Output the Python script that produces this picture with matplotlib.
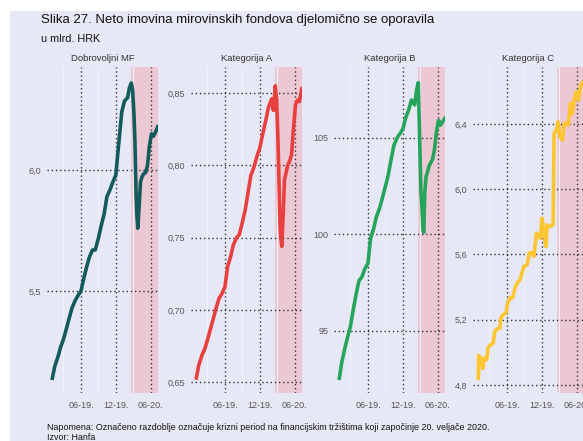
import pandas as pd
import matplotlib.pyplot as plt
from matplotlib.patches import Rectangle

plt.rcParams['font.family'] = ['Liberation Sans', 'DejaVu Sans']

# common dates for the first three panels
dates = pd.to_datetime([
    '2019-01-02', '2019-01-15', '2019-02-01', '2019-02-15', '2019-03-01', '2019-03-15',
    '2019-04-01', '2019-04-15', '2019-05-01', '2019-05-15', '2019-06-01', '2019-06-15',
    '2019-07-01', '2019-07-15', '2019-08-01', '2019-08-15', '2019-09-01', '2019-09-15',
    '2019-10-01', '2019-10-15', '2019-11-01', '2019-11-15', '2019-12-01', '2019-12-15',
    '2020-01-01', '2020-01-15', '2020-02-01', '2020-02-10', '2020-02-20', '2020-02-27',
    '2020-03-05', '2020-03-10', '2020-03-16', '2020-03-20', '2020-03-25', '2020-04-01',
    '2020-04-08', '2020-04-15', '2020-04-25', '2020-05-05', '2020-05-15', '2020-05-25',
    '2020-06-05', '2020-06-15', '2020-06-25', '2020-07-08'])

dobrovoljni = [5.14, 5.19, 5.23, 5.27, 5.30, 5.34, 5.39, 5.43, 5.46, 5.48, 5.50, 5.55,
               5.60, 5.64, 5.67, 5.67, 5.72, 5.77, 5.82, 5.89, 5.92, 5.95, 5.98, 6.10,
               6.24, 6.285, 6.30, 6.34, 6.36, 6.33, 6.23, 6.12, 5.90, 5.82, 5.76, 5.85,
               5.95, 5.97, 5.985, 5.99, 6.02, 6.10, 6.15, 6.14, 6.155, 6.18]

kat_a = [0.653, 0.662, 0.669, 0.673, 0.679, 0.686, 0.694, 0.701, 0.708, 0.711, 0.716, 0.730,
         0.737, 0.745, 0.750, 0.752, 0.761, 0.769, 0.782, 0.793, 0.799, 0.806, 0.812, 0.821,
         0.831, 0.840, 0.846, 0.838, 0.855, 0.845, 0.818, 0.790, 0.758, 0.750, 0.744, 0.765,
         0.790, 0.794, 0.800, 0.803, 0.807, 0.825, 0.842, 0.845, 0.844, 0.853]

kat_b = [92.55, 93.4, 94.15, 94.71, 95.22, 96.05, 96.95, 97.6, 97.81, 98.2, 98.5, 99.8,
         100.3, 100.9, 101.35, 101.85, 102.5, 103.05, 103.9, 104.6, 105.0, 105.2, 105.45, 106.0,
         106.45, 106.95, 106.7, 107.4, 107.85, 105.0, 102.1, 101.4, 100.2, 100.1, 102.2, 103.0,
         103.2, 103.5, 103.7, 103.9, 104.4, 105.3, 105.9, 105.65, 105.8, 106.0]

# kategorija C moves in steps, so it has its own dates
dates_c = pd.to_datetime([
    '2019-01-02', '2019-01-04', '2019-01-14', '2019-01-25', '2019-02-02', '2019-02-15',
    '2019-02-23', '2019-03-08', '2019-03-21', '2019-03-30', '2019-04-11', '2019-04-25',
    '2019-04-30', '2019-05-13', '2019-05-27', '2019-06-04', '2019-06-16', '2019-06-30',
    '2019-07-13', '2019-07-25', '2019-08-08', '2019-08-29', '2019-09-15', '2019-09-26',
    '2019-10-08', '2019-10-20', '2019-11-03', '2019-11-15', '2019-11-24', '2019-12-02',
    '2019-12-11', '2019-12-22', '2019-12-29', '2020-01-12', '2020-01-29', '2020-02-03',
    '2020-02-15', '2020-02-24', '2020-03-04', '2020-03-18', '2020-03-27', '2020-04-08',
    '2020-04-18', '2020-04-29', '2020-05-09', '2020-05-18', '2020-05-30', '2020-06-10',
    '2020-06-17', '2020-06-25', '2020-07-08'])

kat_c = [4.84, 4.98, 4.965, 4.90, 4.965, 4.955, 5.03, 5.047, 5.057, 5.13, 5.143, 5.149,
         5.21, 5.231, 5.241, 5.30, 5.333, 5.333, 5.394, 5.424, 5.445, 5.527, 5.537, 5.608,
         5.612, 5.588, 5.731, 5.71, 5.70, 5.822, 5.751, 5.649, 5.782, 5.771, 5.782, 6.343,
         6.363, 6.414, 6.322, 6.302, 6.404, 6.404, 6.394, 6.527, 6.465, 6.547, 6.598, 6.547,
         6.608, 6.649, 6.66]

titles = ['Dobrovoljni MF', 'Kategorija A', 'Kategorija B', 'Kategorija C']
colors = ['#135a5b', '#e8403f', '#24a55b', '#fdc530']
yticks = [[5.5, 6.0], [0.65, 0.70, 0.75, 0.80, 0.85], [95, 100, 105], [4.8, 5.2, 5.6, 6.0, 6.4]]
ytick_labels = [['5,5', '6,0'], ['0,65', '0,70', '0,75', '0,80', '0,85'],
                ['95', '100', '105'], ['4,8', '5,2', '5,6', '6,0', '6,4']]
ylims = [(5.079, 6.426), (0.6426, 0.868), (91.79, 108.66), (4.75, 6.75)]
xticks = pd.to_datetime(['2019-06-01', '2019-12-01', '2020-06-01'])
xtick_labels = ['06-19.', '12-19.', '06-20.']
minor_x = pd.to_datetime(['2019-03-01', '2019-09-01', '2020-03-01'])
crisis_start = pd.Timestamp('2020-02-20')
xlim = (pd.Timestamp('2018-12-05'), pd.Timestamp('2020-07-09'))

bg = '#e7e8f5'
fig = plt.figure(figsize=(5.83, 4.41), dpi=100, facecolor='white')
# lavender panel behind everything, white strip on top and left
fig.patches.append(Rectangle((10 / 583, 0), 1, (441 - 11) / 441, transform=fig.transFigure,
                             facecolor=bg, edgecolor='none', zorder=-10))

fig.text(41 / 583, 1 - 20 / 441, 'Slika 27. Neto imovina mirovinskih fondova djelomično se oporavila',
         fontsize=9.5, va='center', ha='left', color='#111111')
fig.text(41 / 583, 1 - 39 / 441, 'u mlrd. HRK', fontsize=7.8, va='center', ha='left', color='#111111')

lefts = [47, 191, 334, 473]
xs = [dates, dates, dates, dates_c]
ys = [dobrovoljni, kat_a, kat_b, kat_c]

for i in range(4):
    ax = fig.add_axes([lefts[i] / 583, 48 / 441, 111 / 583, 326 / 441])
    ax.set_facecolor(bg)
    ax.set_axisbelow('line')
    ax.axvspan(crisis_start, xlim[1], color='#ebc8d3', lw=0, zorder=1)
    ax.plot(xs[i], ys[i], color=colors[i], lw=2.6, zorder=3, solid_joinstyle='round')
    ax.set_xlim(xlim)
    ax.set_ylim(ylims[i])
    ax.set_xticks(xticks)
    ax.set_xticklabels(xtick_labels)
    ax.set_xticks(minor_x, minor=True)
    ax.set_yticks(yticks[i])
    ax.set_yticklabels(ytick_labels[i])
    ax.grid(True, which='major', color='#333333', ls=(0, (1, 2)), lw=1.0)
    ax.grid(True, which='minor', axis='x', color='#f1f1f8', lw=0.8)
    ax.tick_params(which='both', length=0, labelsize=6.5, labelcolor='#555555')
    ax.tick_params(axis='x', pad=6)
    ax.tick_params(axis='y', pad=4)
    for s in ax.spines.values():
        s.set_visible(False)
    ax.set_title(titles[i], fontsize=6.8, color='#333333', pad=4)

fig.text(47 / 583, 1 - 428 / 441,
         'Napomena: Označeno razdoblje označuje krizni period na financijskim tržištima koji započinje 20. veljače 2020.',
         fontsize=6.4, va='center', ha='left', color='#111111')
fig.text(47 / 583, 1 - 438 / 441, 'Izvor: Hanfa', fontsize=6.4, va='center', ha='left', color='#111111')

plt.savefig('out.png', dpi=100, facecolor=fig.get_facecolor())
